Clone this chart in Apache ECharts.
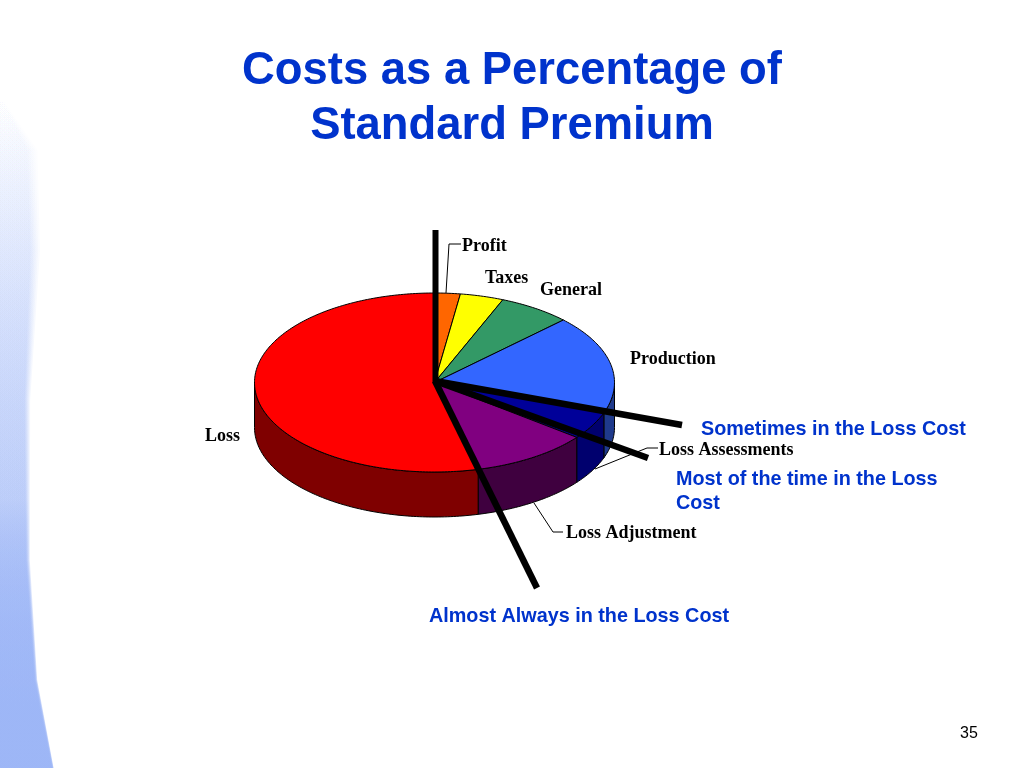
<!DOCTYPE html>
<html><head><meta charset="utf-8">
<style>html,body{margin:0;padding:0;background:#fff}#c{width:1024px;height:768px}</style>
<script src="https://cdn.jsdelivr.net/npm/echarts@6/dist/echarts.min.js"></script>
</head><body><div id="c"></div>
<script>
const categories = ['Profit','Taxes','General','Production','Loss Assessments','Loss Adjustment','Loss'];
const shares = [2.3,3.9,6.5,17.8,5.0,10.6,53.9];
const topColors = ['#ff6600','#ffff00','#339966','#3366ff','#000099','#800080','#ff0000'];
const sideColors = ['#803300','#808000','#1a4d33','#1f3a8c','#00006e','#3f003f','#7f0000'];
const titleLines = ['Costs as a Percentage of','Standard Premium'];
const notes = ['Sometimes in the Loss Cost','Most of the time in the Loss\nCost','Almost Always in the Loss Cost'];
const pageNumber = '35';

const CX=434.5, CY=382.5, RX=180, RY=89.5, DEPTH=45;
const labelAt = {
  'Profit':[462,246],'Taxes':[485,278],'General':[540,290],'Production':[630,359],
  'Loss Assessments':[659,450],'Loss Adjustment':[566,533],'Loss':[205,436]
};
const leaders = {
  'Profit':[[446,293],[449,244],[461,244]],
  'Loss Assessments':[[595,469],[637,452],[647,448],[658,448]],
  'Loss Adjustment':[[534,503],[553,532],[563,532]]
};
const total = shares.reduce((a,b)=>a+b,0);
function rangeOf(i){
  let s=0; for(let k=0;k<i;k++) s+=shares[k];
  return [s/total*360,(s+shares[i])/total*360];
}
function pt(deg,dy){const r=deg*Math.PI/180;return [CX+RX*Math.sin(r),CY-RY*Math.cos(r)+(dy||0)];}
function arc(a,b,dy){const n=Math.max(2,Math.ceil(Math.abs(b-a)));const p=[];for(let j=0;j<=n;j++)p.push(pt(a+(b-a)*j/n,dy));return p;}
const edge={stroke:'#000',lineWidth:1};

// soft-edged decorative band on the left of the slide
const band=[[0,95],[30,150],[33,250],[26,400],[27,560],[35,680],[52,768],[0,768]];
const bandLayers=[1.3,1.22,1.15,1.08,1.02,0.96,0.9].map(f=>({
  type:'polygon',z:0,silent:true,
  shape:{points:band.map(p=>[p[0]*(1+(f-1)*(1-p[1]/768*0.9)),p[1]])},
  style:{fill:{type:'linear',x:0,y:0,x2:0,y2:1,colorStops:[
    {offset:0,color:'rgba(157,182,246,0)'},
    {offset:.25,color:'rgba(157,182,246,.06)'},
    {offset:.6,color:'rgba(157,182,246,.15)'},
    {offset:1,color:'rgba(157,182,246,.6)'}]}}
}));

const seriesData = categories.map((n,i)=>({name:n,value:shares[i]}));
const noteFont='bold 19.8px "Liberation Sans"';
const option = {
  animation:false,
  backgroundColor:'#fff',
  title:{text:titleLines.join('\n'),left:507,textAlign:'center',top:39,textStyle:{fontFamily:'Liberation Sans',fontWeight:'bold',fontSize:45.4,lineHeight:55,color:'#0033cc'}},
  graphic:{elements:bandLayers.concat([
    {type:'line',z:20,shape:{x1:435.5,y1:230,x2:435.5,y2:383},style:{stroke:'#000',lineWidth:6}},
    {type:'line',z:20,shape:{x1:435,y1:381,x2:682,y2:425},style:{stroke:'#000',lineWidth:6.5}},
    {type:'line',z:20,shape:{x1:435,y1:381,x2:648,y2:458},style:{stroke:'#000',lineWidth:6.5}},
    {type:'line',z:20,shape:{x1:435,y1:381,x2:537,y2:588},style:{stroke:'#000',lineWidth:6.5}},
    {type:'text',z:20,style:{x:701,y:429.5,text:notes[0],verticalAlign:'middle',font:noteFont,fill:'#0033cc'}},
    {type:'text',z:20,style:{x:676,y:468,text:notes[1],verticalAlign:'top',lineHeight:24,font:noteFont,fill:'#0033cc'}},
    {type:'text',z:20,style:{x:429,y:617,text:notes[2],verticalAlign:'middle',font:noteFont,fill:'#0033cc'}},
    {type:'text',z:20,style:{x:960,y:734,text:pageNumber,verticalAlign:'middle',font:'16px "Liberation Sans"',fill:'#000'}}
  ])},
  series:[
    {type:'custom',coordinateSystem:'none',z:3,data:seriesData,
     renderItem(params){
       const i=params.dataIndex; const [a0,b0]=rangeOf(i);
       const a=Math.max(a0,90), b=Math.min(b0,270);
       if(b<=a) return {type:'group',children:[]};
       const pts=arc(a,b,0).concat(arc(b,a,DEPTH));
       return {type:'polygon',shape:{points:pts},style:{fill:sideColors[i],...edge}};
     }},
    {type:'custom',coordinateSystem:'none',z:4,data:seriesData,
     renderItem(params){
       const i=params.dataIndex; const [a,b]=rangeOf(i);
       return {type:'polygon',shape:{points:[[CX,CY]].concat(arc(a,b,0))},style:{fill:topColors[i],...edge}};
     }},
    {type:'custom',coordinateSystem:'none',z:5,data:seriesData,
     renderItem(params,api){
       const n=categories[params.dataIndex]; const children=[];
       if(leaders[n]) children.push({type:'polyline',shape:{points:leaders[n]},style:{fill:'none',stroke:'#000',lineWidth:1}});
       const p=labelAt[n];
       children.push({type:'text',style:{x:p[0],y:p[1],text:n,verticalAlign:'middle',font:'bold 18px "Liberation Serif"',fill:'#000'}});
       return {type:'group',children};
     }}
  ]
};
echarts.init(document.getElementById('c'),null,{renderer:'canvas'}).setOption(option);
</script></body></html>
